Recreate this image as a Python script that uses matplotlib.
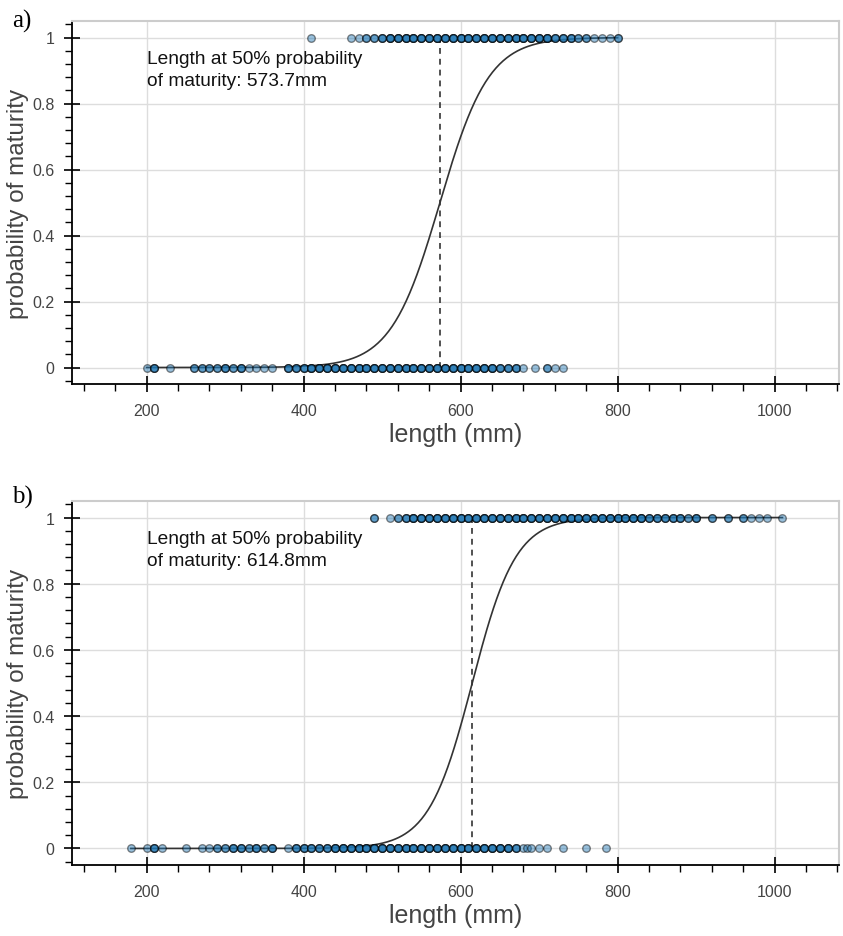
import numpy as np
import matplotlib
matplotlib.use('Agg')
import matplotlib.pyplot as plt
from matplotlib.ticker import MultipleLocator

plt.rcParams['font.family'] = ['Liberation Sans', 'DejaVu Sans']

# panel a) lengths (mm) and how many fish share each length
a_mature_len = [410, 460, 470, 480, 490, 500, 510, 520, 530, 540, 550, 560, 570, 580, 590,
                600, 610, 620, 630, 640, 650, 660, 670, 680, 690, 700, 710, 720, 730, 740,
                750, 760, 770, 780, 790, 800]
a_mature_n = [1, 1, 1, 2, 2, 3, 4, 4, 4, 4, 4, 4, 4, 4, 4,
              4, 4, 4, 4, 4, 4, 4, 4, 4, 4, 4, 4, 3, 3, 3,
              2, 2, 1, 1, 1, 2]
a_immature_len = [200, 210, 230, 260, 270, 280, 290, 300, 310, 320, 330, 340, 350, 360,
                  380, 390, 400, 410, 420, 430, 440, 450, 460, 470, 480, 490, 500, 510,
                  520, 530, 540, 550, 560, 570, 580, 590, 600, 610, 620, 630, 640, 650,
                  660, 670, 680, 695, 710, 720, 730]
a_immature_n = [1, 3, 1, 2, 2, 2, 2, 3, 2, 3, 1, 1, 1, 1,
                3, 3, 3, 4, 4, 4, 4, 4, 4, 4, 4, 4, 4, 4,
                4, 4, 4, 4, 4, 4, 4, 4, 4, 4, 4, 4, 4, 3,
                3, 3, 1, 1, 2, 1, 1]
a_l50 = 573.7
a_slope = 0.032

# panel b)
b_mature_len = [490, 510, 520, 530, 540, 550, 560, 570, 580, 590, 600, 610, 620, 630, 640,
                650, 660, 670, 680, 690, 700, 710, 720, 730, 740, 750, 760, 770, 780, 790,
                800, 810, 820, 830, 840, 850, 860, 870, 880, 890, 900, 920, 940, 960, 970,
                980, 990, 1010]
b_mature_n = [2, 1, 2, 3, 4, 4, 4, 4, 4, 4, 4, 4, 4, 4, 4,
              4, 4, 4, 4, 4, 4, 4, 4, 4, 4, 4, 4, 4, 4, 4,
              4, 4, 4, 4, 3, 3, 3, 3, 3, 2, 3, 2, 2, 2, 1,
              1, 1, 1]
b_immature_len = [180, 200, 210, 220, 250, 270, 280, 290, 300, 310, 320, 330, 340, 350,
                  360, 380, 390, 400, 410, 420, 430, 440, 450, 460, 470, 480, 490, 500,
                  510, 520, 530, 540, 550, 560, 570, 580, 590, 600, 610, 620, 630, 640,
                  650, 660, 670, 680, 685, 690, 700, 710, 730, 760, 785]
b_immature_n = [1, 1, 3, 1, 1, 1, 1, 2, 2, 3, 3, 2, 3, 2,
                3, 1, 3, 3, 3, 3, 3, 4, 4, 4, 4, 4, 4, 4,
                4, 4, 4, 4, 4, 4, 4, 4, 4, 4, 4, 4, 4, 4,
                4, 4, 3, 1, 1, 1, 1, 1, 1, 1, 1]
b_l50 = 614.8
b_slope = 0.036

x_ticks = [200, 400, 600, 800, 1000]
y_ticks = [0, 0.2, 0.4, 0.6, 0.8, 1]
y_ticklabels = ['0', '0.2', '0.4', '0.6', '0.8', '1']

W, H = 843, 937
fig = plt.figure(figsize=(W / 100, H / 100), dpi=100)


def draw_panel(ax, mat_len, mat_n, imm_len, imm_n, l50, slope):
    xm = np.repeat(mat_len, mat_n)
    xi = np.repeat(imm_len, imm_n)
    lo = min(xm.min(), xi.min())
    hi = max(xm.max(), xi.max())
    xs = np.linspace(lo, hi, 400)
    ys = 1.0 / (1.0 + np.exp(-slope * (xs - l50)))
    ax.plot(xs, ys, color='#333333', lw=1.2, zorder=2)
    ax.plot([l50, l50], [0, 1], color='#333333', lw=1.2, ls=(0, (3.5, 3)), zorder=2)
    for xx, yv in ((xm, 1.0), (xi, 0.0)):
        ax.scatter(xx, np.full(len(xx), yv), s=30, facecolor='#1f77b4', edgecolor='black',
                   linewidth=1.0, alpha=0.45, zorder=3)
    ax.text(200, 0.962, f'Length at 50% probability\nof maturity: {l50:.1f}mm',
            fontsize=13.8, color='#111111', va='top', ha='left', linespacing=1.4)

    ax.set_xlim(105, 1082)
    ax.set_ylim(-0.05, 1.05)
    ax.set_xticks(x_ticks)
    ax.xaxis.set_minor_locator(MultipleLocator(40))
    ax.set_yticks(y_ticks)
    ax.set_yticklabels(y_ticklabels)
    ax.yaxis.set_minor_locator(MultipleLocator(0.04))
    ax.grid(True, which='major', color='#dddddd', lw=1.0, zorder=0)
    ax.set_axisbelow(True)
    for side in ('top', 'right'):
        ax.spines[side].set_color('#cccccc')
        ax.spines[side].set_linewidth(1.5)
    for side in ('left', 'bottom'):
        ax.spines[side].set_color('black')
        ax.spines[side].set_linewidth(1.3)
    ax.tick_params(which='major', direction='inout', length=11, width=1.2, color='black',
                   labelsize=11.5, labelcolor='#444444')
    ax.tick_params(which='minor', direction='out', length=5, width=1.0, color='black')
    ax.tick_params(axis='x', which='major', pad=8)
    ax.tick_params(axis='y', which='major', pad=7)
    ax.set_xlabel('length (mm)', fontsize=18, color='#444444', labelpad=3)
    ax.set_ylabel('probability of maturity', fontsize=17.5, color='#444444')
    ax.yaxis.set_label_coords(-43 / 767, 0.5)


ax1 = fig.add_axes([72 / W, 1 - 385 / H, (839 - 72) / W, (385 - 22) / H])
draw_panel(ax1, a_mature_len, a_mature_n, a_immature_len, a_immature_n, a_l50, a_slope)
ax2 = fig.add_axes([72 / W, 1 - 866 / H, (839 - 72) / W, (866 - 502) / H])
draw_panel(ax2, b_mature_len, b_mature_n, b_immature_len, b_immature_n, b_l50, b_slope)

fig.text(12 / W, 1 - 21 / H, 'a)', family=['Liberation Serif', 'DejaVu Serif'],
         fontsize=18, va='center', ha='left')
fig.text(12 / W, 1 - 497 / H, 'b)', family=['Liberation Serif', 'DejaVu Serif'],
         fontsize=18, va='center', ha='left')

fig.savefig('out.png', dpi=100)
